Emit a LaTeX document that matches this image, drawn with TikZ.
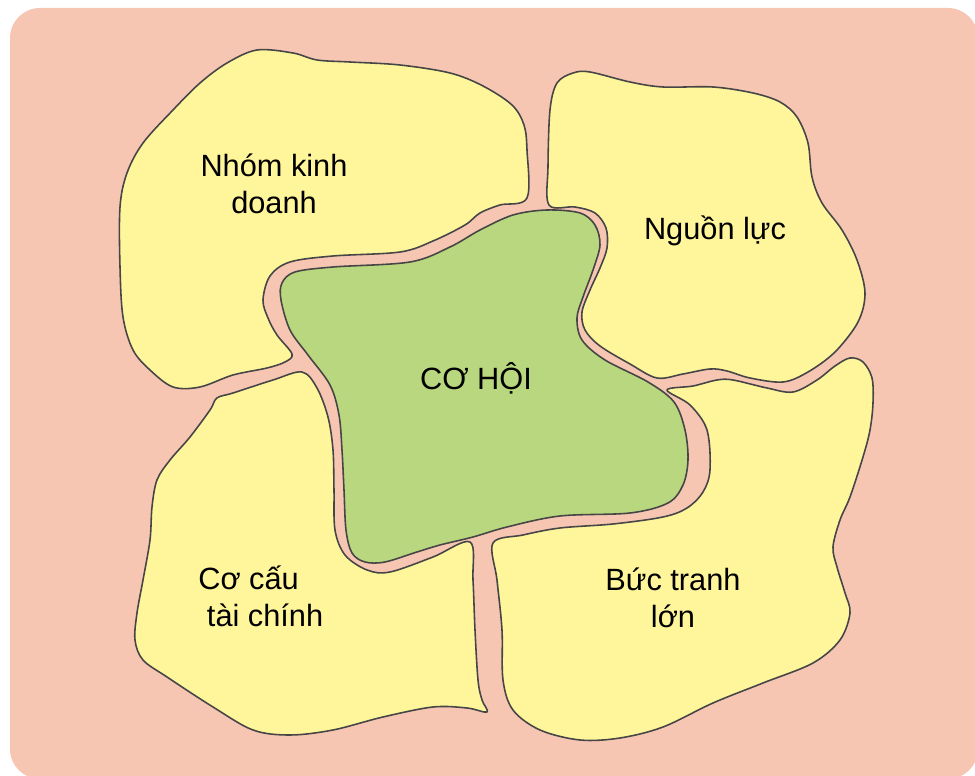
\documentclass[tikz,border=0pt]{standalone}
\usepackage{fontspec}
\setmainfont{Liberation Sans}
\definecolor{nen}{RGB}{247,198,179}
\definecolor{vang}{RGB}{255,245,155}
\definecolor{xanh}{RGB}{185,215,126}
\definecolor{vien}{RGB}{70,70,70}

\begin{document}
\begin{tikzpicture}[x=0.02cm, y=-0.02cm,
  khoi/.style={draw=vien, line width=0.9pt, line join=round, fill=vang},
  nhan/.style={font=\fontsize{17.5}{21}\selectfont, inner sep=0pt}]
  \useasboundingbox (0,0) rectangle (975,776);
  % nền hồng bo góc
  \fill[nen, rounded corners=0.6cm] (10,8) rectangle (978,779);
  % mảnh trên trái
  \draw[khoi] plot[smooth cycle, tension=0.55] coordinates {
    (257,50) (293,53) (317,60) (350,62) (400,65) (450,73) (483,86) (512,105)
    (524,125) (527,150) (527,198) (500,205) (480,213) (465,225) (433,241)
    (400,252) (333,256) (290,262) (270,276) (263,300) (268,318) (277,335)
    (292,354) (285,362) (267,368) (233,375) (200,387) (173,387) (150,370)
    (133,350) (123,317) (120,267) (120,207) (127,173) (143,143) (173,110)
    (200,83) (227,63)};
  % mảnh trên phải
  \draw[khoi] plot[smooth cycle, tension=0.55] coordinates {
    (557,83) (573,73) (590,72) (630,82) (663,87) (713,87) (753,93) (780,102)
    (797,117) (808,143) (812,177) (822,203) (842,230) (857,260) (865,293)
    (858,322) (835,352) (808,372) (783,382) (750,378) (727,371) (710,369)
    (683,374) (657,378) (630,364) (600,346) (585,330) (582,312) (590,290)
    (600,268) (607,248) (606,228) (595,213) (575,207) (549,205) (548,167)
    (550,110)};
  % mảnh dưới trái
  \draw[khoi] plot[smooth cycle, tension=0.55] coordinates {
    (217,398) (233,393) (273,380) (302,372) (317,388) (328,417) (333,450)
    (334,490) (335,530) (345,555) (367,570) (390,572) (433,557) (470,542)
    (473,580) (475,630) (478,680) (482,700) (487,712) (467,708) (433,707)
    (383,717) (333,730) (290,735) (253,730) (213,707) (167,677) (143,660)
    (135,640) (137,613) (143,580) (150,540) (152,507) (157,480) (170,460)
    (190,437) (210,410)};
  % mảnh dưới phải
  \draw[khoi] plot[smooth cycle, tension=0.55] coordinates {
    (493,543) (523,535) (560,528) (613,524) (663,517) (687,508) (703,492)
    (710,470) (707,430) (690,405) (667,390) (693,386) (717,380) (733,380)
    (767,388) (793,392) (817,380) (835,366) (850,358) (863,362) (872,378)
    (873,403) (870,430) (863,457) (850,497) (840,520) (833,547) (837,567)
    (845,593) (850,613) (840,640) (813,663) (763,683) (713,703) (663,727)
    (620,738) (580,740) (540,730) (513,710) (503,680) (502,630) (497,580)};
  % ô giữa
  \draw[khoi, fill=xanh] plot[smooth cycle, tension=0.55] coordinates {
    (282,283) (295,272) (333,267) (410,262) (450,247) (480,230) (513,215)
    (547,210) (580,213) (595,225) (600,245) (593,270) (583,297) (577,318)
    (582,340) (605,360) (648,382) (674,402) (685,430) (688,460) (683,485)
    (668,503) (630,513) (560,516) (507,527) (473,537) (440,545) (417,552)
    (385,562) (365,562) (352,553) (346,530) (344,490) (342,450) (339,415)
    (330,385) (308,355) (290,330) (281,300)};
  % chữ
  \node[nhan, align=center] (kinhdoanh) at (274,184) {Nhóm kinh\\doanh};
  \node[nhan] (nguonluc) at (715,231) {Nguồn lực};
  \node[nhan] (cohoi) at (476,378) {CƠ HỘI};
  \node[nhan, align=left, anchor=west] (taichinh) at (198,596)
    {Cơ cấu\\\hspace*{.28em}tài chính};
  \node[nhan, align=center] (buctranh) at (673,598) {Bức tranh\\lớn};
\end{tikzpicture}
\end{document}
